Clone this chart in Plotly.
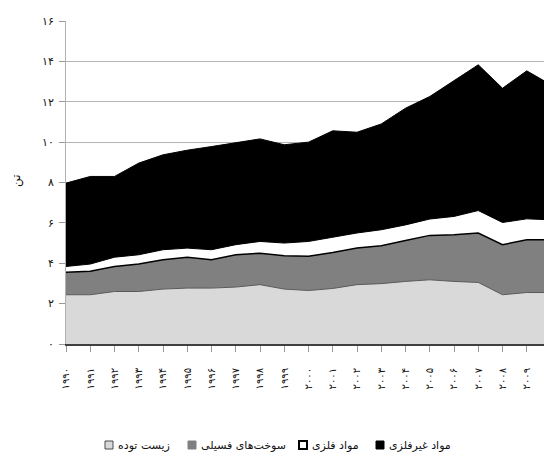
import plotly.graph_objects as go

years = list(range(1990, 2011))
biomass = [2.44, 2.44, 2.60, 2.60, 2.72, 2.77, 2.77, 2.82, 2.94, 2.72, 2.65,
           2.75, 2.94, 2.99, 3.10, 3.18, 3.10, 3.05, 2.44, 2.55, 2.55]
fossil = [1.11, 1.16, 1.24, 1.36, 1.45, 1.53, 1.40, 1.60, 1.56, 1.65, 1.70,
          1.78, 1.81, 1.88, 2.03, 2.20, 2.31, 2.45, 2.48, 2.61, 2.61]
metal = [0.29, 0.36, 0.46, 0.46, 0.50, 0.45, 0.50, 0.50, 0.58, 0.63, 0.73,
         0.77, 0.75, 0.79, 0.77, 0.81, 0.91, 1.11, 1.10, 1.04, 0.99]
nonmetal = [4.13, 4.34, 4.00, 4.54, 4.70, 4.85, 5.11, 5.06, 5.08, 4.87, 4.92,
            5.26, 4.99, 5.24, 5.78, 6.07, 6.71, 7.22, 6.65, 7.33, 6.69]
y_ticks = [0, 2, 4, 6, 8, 10, 12, 14, 16]

names = ["زیست توده", "سوخت‌های فسیلی", "مواد فلزی", "مواد غیرفلزی"]
y_title = "تن"

FA = str.maketrans("0123456789", "۰۱۲۳۴۵۶۷۸۹")
def fa(v):
    return str(v).translate(FA)

FONT = "DejaVu Sans"
OFF = 8  # page body margin
W, H = 552 - OFF, 455 - OFF
ML, MR, MT, MB = 66 - OFF, 1, 21 - OFF, 111
PW, PH = W - ML - MR, H - MT - MB

fig = go.Figure()
series = [biomass, fossil, metal, nonmetal]
fills = ["#d9d9d9", "#808080", "#ffffff", "#000000"]
lines = ["#5a5a5a", "#000000", "#000000", "#000000"]
widths = [1, 1.5, 1, 1]
for vals, nm, fc, lc, lw in zip(series, names, fills, lines, widths):
    fig.add_trace(go.Scatter(
        x=years, y=vals, name=nm, mode="lines", stackgroup="one",
        fillcolor=fc, line=dict(color=lc, width=lw), showlegend=False,
    ))

# window pixel -> paper coordinates
def px2paper(px, py):
    return (px - OFF - ML) / PW, (H - MB - (py - OFF)) / PH

legend_items = [
    (names[0], 105, "#d9d9d9", "#4a4a4a", 1),
    (names[1], 188, "#808080", "#808080", 1),
    (names[2], 299, "#ffffff", "#000000", 2),
    (names[3], 376, "#000000", "#000000", 1),
]
sw = 8
ly = 445
for txt, sx, fc, lc, lw in legend_items:
    x0, y0 = px2paper(sx, ly + sw / 2)
    x1, y1 = px2paper(sx + sw, ly - sw / 2)
    fig.add_shape(type="rect", xref="paper", yref="paper",
                  x0=x0, y0=y0, x1=x1, y1=y1,
                  fillcolor=fc, line=dict(color=lc, width=lw))
    tx, ty = px2paper(sx + sw + 3, ly)
    fig.add_annotation(text=txt, xref="paper", yref="paper", x=tx, y=ty,
                       xanchor="left", yanchor="middle", showarrow=False,
                       font=dict(family=FONT, size=11, color="#111"))

ax, ay = px2paper(17, 181)
fig.add_annotation(text=y_title, xref="paper", yref="paper", x=ax, y=ay,
                   xanchor="center", yanchor="middle", showarrow=False,
                   textangle=-90, font=dict(family=FONT, size=12, color="#111"))

fig.update_layout(
    width=W, height=H, template="none",
    margin=dict(l=ML, r=MR, t=MT, b=MB, pad=0),
    paper_bgcolor="white", plot_bgcolor="white",
    font=dict(family=FONT, size=11, color="#111"),
    showlegend=False,
)
fig.update_xaxes(
    type="linear", range=[years[0], years[-1]],
    tickvals=years, ticktext=[fa(y) for y in years], tickangle=-90,
    ticks="outside", ticklen=6, tickcolor="#9a9a9a", tickwidth=1,
    showline=True, linecolor="#404040", linewidth=2,
    showgrid=False, zeroline=False, automargin=False,
    ticklabelstandoff=12,
    tickfont=dict(family=FONT, size=10, color="#111"),
)
fig.update_yaxes(
    range=[0, 16], tickvals=y_ticks, ticktext=[fa(v) for v in y_ticks],
    ticks="outside", ticklen=6, tickcolor="#9a9a9a", tickwidth=1,
    showline=True, linecolor="#b0b0b0", linewidth=1,
    showgrid=True, gridcolor="#b4b4b4", gridwidth=1,
    zeroline=False, automargin=False, ticklabelstandoff=3,
    tickfont=dict(family=FONT, size=11, color="#111"),
)

fig.write_html("out.html")
